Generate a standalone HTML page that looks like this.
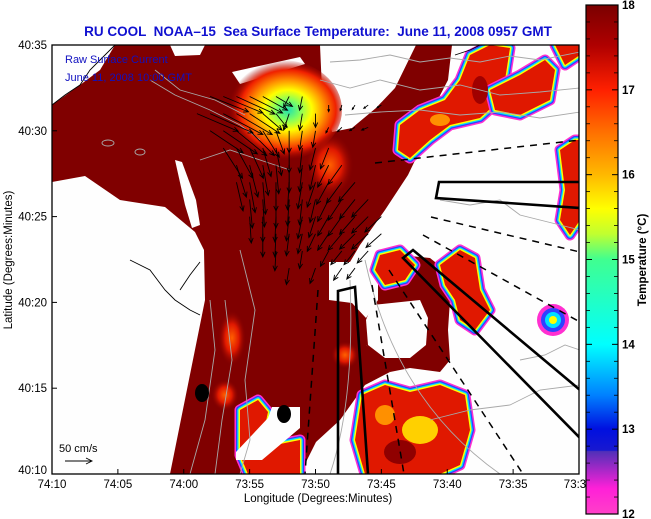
<!DOCTYPE html>
<html><head><meta charset="utf-8"><style>
html,body{margin:0;padding:0;background:#fff;}
svg{display:block;font-family:"Liberation Sans",sans-serif;}
</style></head><body>
<svg id="chart" width="651" height="519" viewBox="0 0 651 519" xmlns="http://www.w3.org/2000/svg">
<defs>
<linearGradient id="cbar" x1="0" y1="0" x2="0" y2="1">
<stop offset="0" stop-color="#7a0000"/>
<stop offset="0.08" stop-color="#b00000"/>
<stop offset="0.167" stop-color="#ff2000"/>
<stop offset="0.25" stop-color="#ff7000"/>
<stop offset="0.333" stop-color="#ffb800"/>
<stop offset="0.40" stop-color="#ffff00"/>
<stop offset="0.45" stop-color="#c0ff30"/>
<stop offset="0.5" stop-color="#40ff90"/>
<stop offset="0.667" stop-color="#00ffff"/>
<stop offset="0.767" stop-color="#0080ff"/>
<stop offset="0.833" stop-color="#0010e0"/>
<stop offset="0.875" stop-color="#1818d0"/>
<stop offset="0.877" stop-color="#5030b8"/>
<stop offset="0.95" stop-color="#ff20d8"/>
<stop offset="1" stop-color="#ff40c8"/>
</linearGradient>
<radialGradient id="hot" cx="0.55" cy="0.5" r="0.5">
<stop offset="0" stop-color="#20e0b0"/>
<stop offset="0.2" stop-color="#80ff60"/>
<stop offset="0.4" stop-color="#ffff00"/>
<stop offset="0.6" stop-color="#ff9000"/>
<stop offset="0.8" stop-color="#f02000"/>
<stop offset="1" stop-color="#900000" stop-opacity="0"/>
</radialGradient>
<radialGradient id="warm" cx="0.5" cy="0.5" r="0.5">
<stop offset="0" stop-color="#ff6000"/>
<stop offset="0.5" stop-color="#e01800"/>
<stop offset="1" stop-color="#800000" stop-opacity="0"/>
</radialGradient>
<clipPath id="plotclip"><rect x="52" y="45" width="527" height="429"/></clipPath>
</defs>

<text x="318" y="36" text-anchor="middle" font-size="13.5" font-weight="bold" fill="#1010d0" style="white-space:pre">RU COOL  NOAA–15  Sea Surface Temperature:  June 11, 2008 0957 GMT</text>

<g clip-path="url(#plotclip)">
<rect x="52" y="45" width="527" height="429" fill="#fefefe"/>
<polygon fill="#800000" points="115,45 320,45 322,90 332,132 352,128 376,108 395,88 416,45 452,45 448,80 435,105 420,150 408,175 385,210 360,245 350,262 329,262 329,300 352,303 366,318 366,345 380,358 390,372 365,385 340,420 316,442 300,474 170,474 205,300 204,250 195,232 165,207 120,200 85,176 52,182 52,105 80,85 100,70"/>
<polygon fill="#800000" points="378,262 400,255 430,258 445,270 450,300 448,330 450,360 440,372 410,368 390,372 366,345 366,318 378,300"/>
<polygon fill="#fefefe" points="175,160 182,162 196,200 200,225 192,228 185,205"/>
<polygon fill="#fefefe" points="232,72 300,57 305,64 240,84"/>
<polygon fill="#fefefe" points="170,45 205,45 200,55 175,56"/>
<polygon fill="#fefefe" points="372,305 420,300 428,318 426,345 410,358 385,358 368,345 366,320"/>
<polygon fill="#fefefe" points="316,474 316,445 335,430 345,474"/>
<ellipse cx="282" cy="110" rx="60" ry="50" fill="url(#hot)"/>
<ellipse cx="330" cy="165" rx="24" ry="32" fill="url(#warm)"/>
<ellipse cx="232" cy="338" rx="14" ry="28" fill="url(#warm)"/>
<ellipse cx="225" cy="395" rx="14" ry="16" fill="url(#warm)"/>
<ellipse cx="345" cy="355" rx="14" ry="14" fill="url(#warm)"/>
<g id="patches"></g>
<polygon fill="#fefefe" points="272,407 300,407 300,428 262,460 236,460 236,452 268,418"/>
<g fill="none" stroke="#a8a8a8" stroke-width="0.9">
<polyline points="330,62 360,60 390,55 420,62 450,58 480,62 510,56 540,60 580,52"/>
<polyline points="320,80 350,88 380,80 420,90 460,85 500,95 540,92 580,88"/>
<polyline points="345,115 380,112 420,110 460,115 500,112 540,118 580,112"/>
<polyline points="440,200 470,205 500,200 520,215 560,225 580,230"/>
<path d="M365,260 Q395,400 500,474"/>
<path d="M350,280 Q355,400 330,474"/>
<polyline points="210,300 215,350 205,420 190,474"/>
<polyline points="225,300 232,360 222,420 215,474"/>
<polyline points="240,250 255,310 245,380 250,440 240,474"/>
<polyline points="150,80 175,95 210,110 240,125 260,140"/>
<polyline points="155,70 180,90 215,100 245,115"/>
<polyline points="200,160 230,150 260,160 290,170"/>
<polyline points="430,420 470,410 510,405 540,390 580,385"/>
<polyline points="520,360 545,355 565,345 580,350"/>
<ellipse cx="108" cy="143" rx="6" ry="3"/>
<ellipse cx="140" cy="152" rx="5" ry="3"/>
</g>
<g fill="none" stroke="#000" stroke-width="0.9">
<polyline points="52,105 65,95 80,85 90,70 100,60 115,45"/>
<polyline points="130,260 150,270 165,290 175,300 190,310 200,315"/>
<polyline points="180,290 190,275 200,262"/>
<polyline points="455,55 470,50 480,45"/>
</g>
<ellipse cx="202" cy="393" rx="7" ry="9" fill="#000"/>
<ellipse cx="284" cy="414" rx="7" ry="9" fill="#000"/>
<g fill="none" stroke="#000" stroke-width="2.6">
<polyline points="338,474 338,291 355,287 368,474"/>
<polyline points="580,438 403,258 413,250 580,390"/>
<polyline points="580,182 439,182 436,198 580,208"/>
</g>
<g fill="none" stroke="#000" stroke-width="1.5" stroke-dasharray="7,6">
<line x1="375" y1="163" x2="580" y2="140"/>
<line x1="431" y1="217" x2="580" y2="252"/>
<line x1="423" y1="235" x2="580" y2="322"/>
<line x1="389" y1="270" x2="523" y2="474"/>
<line x1="372" y1="285" x2="404" y2="474"/>
<line x1="318" y1="290" x2="305" y2="474"/>
</g>
<g id="arrows" stroke="#000" stroke-width="0.9" fill="none"></g>
</g>
<rect x="52" y="45" width="527" height="429" fill="none" stroke="#000" stroke-width="1.3"/>
<text x="65" y="63" font-size="11" fill="#1010c0">Raw Surface Current</text>
<text x="65" y="81" font-size="11" fill="#1010c0">June 11, 2008 10:00 GMT</text>
<text x="59" y="452" font-size="11" fill="#000">50 cm/s</text>
<g stroke="#000" stroke-width="0.9" fill="none"><line x1="65" y1="461" x2="92" y2="461"/><polyline points="86,458 92,461 86,464"/></g>
<g id="xaxis"></g>
<g id="yaxis"></g>
<text x="318" y="502" text-anchor="middle" font-size="11.5">Longitude (Degrees:Minutes)</text>
<text transform="translate(12,260) rotate(-90)" text-anchor="middle" font-size="11.5">Latitude (Degrees:Minutes)</text>
<rect x="586" y="5" width="32" height="509" fill="url(#cbar)" stroke="#000" stroke-width="1.2"/>
<g id="cbticks"></g>
<text transform="translate(646,260) rotate(-90)" text-anchor="middle" font-size="11.5" font-weight="bold">Temperature (°C)</text>
</svg>
<script>
const NS='http://www.w3.org/2000/svg';
const xTickLabels=['74:10','74:05','74:00','73:55','73:50','73:45','73:40','73:35','73:3'];
const xTickMinutes=[0,5,10,15,20,25,30,35,40];
const yTickLabels=['40:10','40:15','40:20','40:25','40:30','40:35'];
const yTickMinutes=[0,5,10,15,20,25];
const cbValues=[12,13,14,15,16,17,18];
const arrowLon=[12,13,14,15,16,17,18,19, 11,12,13,14,15,16,17,18,19,20, 12,13,14,15,16,17,18,19,20, 13,14,15,16,17,18,19,20,21, 14,15,16,17,18,19,20,21,22, 14,15,16,17,18,19,20,21,22,23, 15,16,17,18,19,20,21,22,23,24, 15,16,17,18,19,20,21,22,23,24,25, 16,17,18,19,20,21,22,23,24,25, 17,19,21,22,23,24, 18,20,22,23, 21,22,23,24,25, 21,22,23,24];
const arrowLat=[22,22,22,22,22,22,22,22, 21,21,21,21,21,21,21,21,21,21, 20,20,20,20,20,20,20,20,20, 19,19,19,19,19,19,19,19,19, 18,18,18,18,18,18,18,18,18, 17,17,17,17,17,17,17,17,17,17, 16,16,16,16,16,16,16,16,16,16, 15,15,15,15,15,15,15,15,15,15,15, 14,14,14,14,14,14,14,14,14,14, 13,13,13,13,13,13, 12,12,12,12, 21.5,21.5,21.5,21.5,21.5, 20.2,20.2,20.2,20.2];
const arrowU=[70,72,70,60,45,30,-10,-5, 75,78,72,65,55,35,20,-10,-5,0, 60,62,55,45,30,15,0,-5,-5, 35,30,25,15,10,0,-5,-10,-15, 18,15,10,5,0,-5,-10,-20,-25, 12,10,5,0,-3,-8,-15,-22,-28,-30, 5,3,0,-3,-5,-10,-20,-25,-28,-30, 3,0,-2,-5,-8,-12,-20,-25,-28,-30,-30, 0,-2,-5,-8,-15,-20,-25,-28,-30,-28, -2,-5,-15,-20,-20,-20, -5,-10,-15,-15, 0,-3,-5,-8,-8, -5,-8,-10,-12];
const arrowV=[-28,-30,-32,-30,-25,-18,-20,-25, -32,-35,-38,-38,-36,-30,-25,-30,-30,-25, -40,-42,-45,-45,-48,-42,-40,-35,-30, -55,-55,-55,-52,-50,-45,-45,-40,-38, -58,-58,-55,-52,-50,-48,-45,-40,-35, -52,-55,-58,-52,-50,-48,-45,-40,-38,-35, -52,-50,-52,-48,-46,-42,-40,-38,-35,-32, -48,-46,-46,-44,-40,-38,-35,-35,-32,-30,-28, -42,-42,-40,-36,-32,-30,-30,-28,-28,-25, -36,-32,-28,-25,-25,-22, -30,-28,-22,-20, -12,-10,-8,-6,-5, -10,-8,-6,-5];

const X0=52,X1=579,Y0=45,Y1=474;
const xScale=m=>X0+m*(X1-X0)/40;
const yScale=m=>Y1-m*(Y1-Y0)/25;
const vScale=c=>c*0.55;
const cbY=v=>514-(v-12)*(509/6);
function mk(tag,attrs,parent){const e=document.createElementNS(NS,tag);for(const k in attrs)e.setAttribute(k,attrs[k]);parent.appendChild(e);return e;}

const xa=document.getElementById('xaxis');
xTickMinutes.forEach((m,i)=>{
  const x=xScale(m);
  const t=mk('line',{x1:x,y1:Y1,x2:x,y2:Y1-5,stroke:'#000','stroke-width':1},xa);
  
  
  const l=mk('text',{x:i===8?x-4:x,y:488,'text-anchor':'middle','font-size':'11.5'},xa);
  
  
  l.textContent=xTickLabels[i];
});
const ya=document.getElementById('yaxis');
yTickMinutes.forEach((m,i)=>{
  const y=yScale(m);
  const t=mk('line',{x1:X0,y1:y,x2:X0+5,y2:y,stroke:'#000','stroke-width':1},ya);
  
  
  const l=mk('text',{x:47,y:y+(i===0?0:4),'text-anchor':'end','font-size':'11.5'},ya);
  
  
  l.textContent=yTickLabels[i];
});
const cb=document.getElementById('cbticks');
cbValues.forEach(v=>{
  const y=cbY(v);
  const l=mk('text',{x:622,y:y+4,'font-size':'11.5','font-weight':'bold'},cb);
  
  
  l.textContent=String(v);
  if(v<18){for(let k=1;k<5;k++){const yy=cbY(v+k*0.2);
    mk('line',{x1:586,y1:yy,x2:590,y2:yy,stroke:'#000','stroke-width':0.8},cb);
    mk('line',{x1:614,y1:yy,x2:618,y2:yy,stroke:'#000','stroke-width':0.8},cb);}}
  mk('line',{x1:586,y1:y,x2:592,y2:y,stroke:'#000','stroke-width':1},cb);
  mk('line',{x1:612,y1:y,x2:618,y2:y,stroke:'#000','stroke-width':1},cb);
});

const pg=document.getElementById('patches');
const patchPts=[
 "398,150 400,125 420,110 445,100 460,80 470,55 490,45 510,48 505,80 500,100 480,118 450,125 430,140 410,158",
 "490,90 520,75 545,60 555,70 550,100 520,115 495,110",
 "555,45 580,45 580,55 565,65",
 "560,150 575,140 580,140 580,220 570,235 560,220 565,190",
 "375,270 380,255 400,250 415,265 405,280 385,285",
 "440,265 460,250 475,258 480,290 490,310 475,330 460,320 455,300 445,285",
 "362,395 385,385 410,392 440,385 465,395 470,430 460,465 440,474 365,474 355,440",
 "240,410 258,400 268,412 262,440 275,445 300,440 300,474 248,474 240,455"
];
const edge=[['#ff30d0',11],['#3040ff',8],['#00e0ff',5.5],['#ffff00',3]];
patchPts.forEach(p=>{
  edge.forEach(([c,w])=>mk('polygon',{points:p,fill:'none',stroke:c,'stroke-width':w,'stroke-linejoin':'round'},pg));
  mk('polygon',{points:p,fill:'#e01800'},pg);
});
[[553,320,16,'#ff30d0'],[553,320,12,'#3040ff'],[553,320,8,'#00e0ff'],[553,320,4,'#ffff00']].forEach(([cx,cy,r,c])=>mk('circle',{cx:cx,cy:cy,r:r,fill:c},pg));
mk('ellipse',{cx:420,cy:430,rx:18,ry:14,fill:'#ffd000'},pg);
mk('ellipse',{cx:400,cy:452,rx:16,ry:12,fill:'#900000'},pg);
mk('ellipse',{cx:385,cy:415,rx:10,ry:10,fill:'#ff9000'},pg);
mk('ellipse',{cx:480,cy:90,rx:8,ry:14,fill:'#a00000'},pg);
mk('ellipse',{cx:440,cy:120,rx:10,ry:6,fill:'#ff9000'},pg);

const ag=document.getElementById('arrows');
arrowLon.forEach((lo,i)=>{
  const x=xScale(lo),y=yScale(arrowLat[i]);
  const dx=vScale(arrowU[i]),dy=-vScale(arrowV[i]);
  const x2=x+dx,y2=y+dy,len=Math.hypot(dx,dy)||1,ux=dx/len,uy=dy/len,h=Math.min(5,len*0.35);
  const g=mk('path',{d:`M${x},${y}L${x2},${y2}M${x2-h*ux-h*0.45*uy},${y2-h*uy+h*0.45*ux}L${x2},${y2}L${x2-h*ux+h*0.45*uy},${y2-h*uy-h*0.45*ux}`},ag);
  
  
});
</script>
</body></html>
